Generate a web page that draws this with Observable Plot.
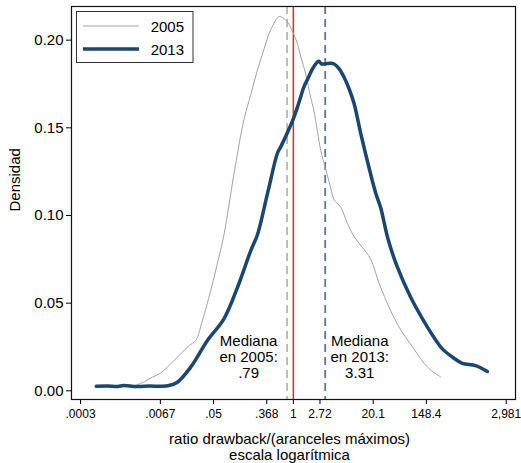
<!DOCTYPE html>
<html><head><meta charset="utf-8">
<script src="https://cdn.jsdelivr.net/npm/d3@7"></script>
<script src="https://cdn.jsdelivr.net/npm/@observablehq/plot@0.6"></script>
<style>
body{margin:0;background:#fff;}
#chart{position:relative;width:521px;height:463px;}
#legend{position:absolute;left:0;top:0;pointer-events:none;}
</style></head><body><div id="chart"></div>
<script>
// log(ratio) positions and kernel density values
const logX2005 = [-5.93,-5.6,-5.3,-5.0,-4.74,-4.5,-4.24,-3.92,-3.67,-3.42,-3.11,-2.86,-2.61,-2.23,-1.86,-1.6,-1.35,-1.1,-0.85,-0.54,-0.4,-0.23,0.0,0.15,0.27,0.46,0.65,0.77,1.03,1.15,1.4,1.53,1.78,2.03,2.28,2.59,2.9,3.28,3.91,4.53,5.04,5.54];
const dens2005 = [0.003,0.0052,0.0078,0.010,0.0135,0.017,0.021,0.0258,0.0287,0.040,0.057,0.0724,0.089,0.124,0.1545,0.169,0.183,0.195,0.206,0.2134,0.2128,0.2105,0.204,0.198,0.191,0.181,0.1674,0.160,0.137,0.130,0.116,0.109,0.1047,0.0955,0.088,0.0819,0.0752,0.059,0.038,0.0239,0.0135,0.0078];
const logX2013 = [-7.41,-7.0,-6.6,-6.38,-5.9,-5.4,-5.0,-4.68,-4.36,-3.86,-3.23,-2.61,-2.1,-1.6,-1.35,-0.95,-0.6,-0.48,-0.2,0.02,0.2,0.4,0.53,0.7,0.9,0.96,1.05,1.2,1.4,1.53,1.7,1.9,2.1,2.28,2.53,2.84,3.1,3.28,3.55,3.91,4.41,5.04,5.35,5.6,6.0,6.35,6.85,7.29];
const dens2013 = [0.0026,0.0028,0.0025,0.003,0.0024,0.0027,0.0026,0.003,0.0049,0.0135,0.0287,0.041,0.059,0.080,0.089,0.114,0.1355,0.139,0.148,0.156,0.164,0.1735,0.1775,0.183,0.1875,0.188,0.1865,0.1865,0.1868,0.1864,0.184,0.179,0.172,0.164,0.147,0.1275,0.1125,0.1045,0.087,0.0705,0.0534,0.0363,0.029,0.0239,0.019,0.0157,0.0144,0.011];

const seriesNames = ["2005", "2013"];
const medianValues = [0.79, 3.31];
const medianLabels = ["Mediana\nen 2005:\n.79", "Mediana\nen 2013:\n3.31"];
const referenceRatio = [1];

const xTickValues = [-8, -5, -3, -1, 0, 1, 3, 5, 8];
const xTickLabels = [".0003", ".0067", ".05", ".368", "1", "2.72", "20.1", "148.4", "2,981"];
const yTickValues = [0, 0.05, 0.10, 0.15, 0.20];

const xTitle = "ratio drawback/(aranceles máximos)\nescala logarítmica";
const yTitle = "Densidad";

const FONT = "'Liberation Sans', Arial, Helvetica, sans-serif";
const GRAY = "#a4a4a4", BLUE = "#1a476f", RED = "#e8262d";
const GRAY_DASH = "#b8b8b8", BLUE_DASH = "#5b7a99";

const d2005 = logX2005.map((x, i) => ({x, y: dens2005[i]}));
const d2013 = logX2013.map((x, i) => ({x, y: dens2013[i]}));

const plot = Plot.plot({
  width: 521, height: 463,
  marginLeft: 71, marginRight: 6, marginTop: 6, marginBottom: 64,
  style: {fontFamily: FONT, background: "#fff", color: "#000", overflow: "visible"},
  x: {domain: [-8.34, 8.35]},
  y: {domain: [-0.00496, 0.2192]},
  marks: [
    Plot.ruleX([Math.log(medianValues[0])], {x: d => d, stroke: GRAY_DASH, strokeWidth: 1.8, strokeDasharray: "8,5"}),
    Plot.ruleX([Math.log(medianValues[1])], {x: d => d, stroke: BLUE_DASH, strokeWidth: 1.8, strokeDasharray: "8,5"}),
    Plot.ruleX(referenceRatio, {x: d => Math.log(d), stroke: RED, strokeWidth: 1.5}),
    Plot.line(d2005, {x: "x", y: "y", stroke: GRAY, strokeWidth: 1, curve: "catmull-rom"}),
    Plot.line(d2013, {x: "x", y: "y", stroke: BLUE, strokeWidth: 3.5, curve: "catmull-rom", strokeLinejoin: "round", strokeLinecap: "round"}),
    Plot.text([0], {x: () => Math.log(medianValues[0]), text: () => medianLabels[0], frameAnchor: "bottom", dx: -38.5, dy: -43, lineAnchor: "middle", fontSize: 15, lineHeight: 1.07, fill: "#000"}),
    Plot.text([1], {x: () => Math.log(medianValues[1]), text: () => medianLabels[1], frameAnchor: "bottom", dx: 34.5, dy: -43, lineAnchor: "middle", fontSize: 15, lineHeight: 1.07, fill: "#000"}),
    Plot.axisX({ticks: xTickValues, tickFormat: d => xTickLabels[xTickValues.indexOf(d)], tickSize: 5, tickPadding: 5, fontSize: 12, label: null}),
    Plot.axisY({ticks: yTickValues, tickFormat: d3.format(".2f"), tickSize: 5, tickPadding: 3, fontSize: 15, label: null}),
    Plot.frame({stroke: "#111", strokeWidth: 1.2}),
    Plot.text([xTitle], {text: d => d, frameAnchor: "bottom", dx: -4, dy: 47.5, lineAnchor: "middle", fontSize: 15, lineHeight: 1.07}),
    Plot.text([yTitle], {text: d => d, frameAnchor: "left", dx: -56.7, dy: 8.5, rotate: -90, fontSize: 15})
  ]
});

const chart = document.getElementById("chart");
chart.appendChild(plot);

// legend box (inside the plot region, upper left)
const lg = d3.select(chart).append("svg")
  .attr("id", "legend").attr("width", 521).attr("height", 463)
  .style("font-family", FONT);
lg.append("rect").attr("x", 76.5).attr("y", 11.5).attr("width", 116.5).attr("height", 51)
  .attr("fill", "#fff").attr("stroke", "#333").attr("stroke-width", 1);
const legendStyles = [{stroke: GRAY, w: 1}, {stroke: BLUE, w: 3.5}];
seriesNames.forEach((name, i) => {
  const cy = 26 + i * 23;
  lg.append("line").attr("x1", 83).attr("x2", 139).attr("y1", cy).attr("y2", cy)
    .attr("stroke", legendStyles[i].stroke).attr("stroke-width", legendStyles[i].w);
  lg.append("text").attr("x", 150.7).attr("y", cy + 5.5).attr("font-size", 15).attr("fill", "#000").text(name);
});
</script>
</body></html>
